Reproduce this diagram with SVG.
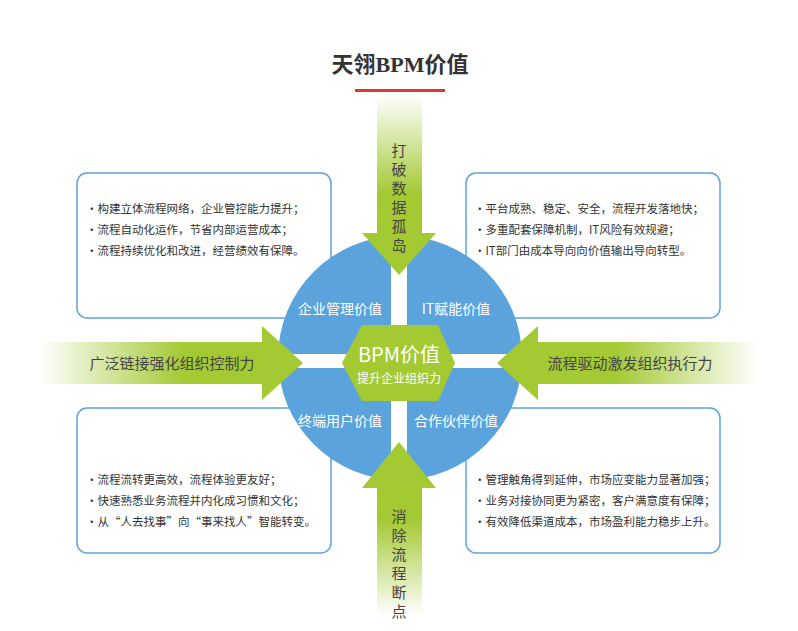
<svg xmlns="http://www.w3.org/2000/svg" width="798" height="631" viewBox="0 0 798 631">
<defs>
<linearGradient id="gd" x1="0" y1="0" x2="0" y2="1"><stop offset="0" stop-color="#fff"/><stop offset="0.55" stop-color="#a3c933"/></linearGradient>
<linearGradient id="gu" x1="0" y1="1" x2="0" y2="0"><stop offset="0" stop-color="#fff"/><stop offset="0.55" stop-color="#a3c933"/></linearGradient>
<linearGradient id="gr" x1="0" y1="0" x2="1" y2="0"><stop offset="0" stop-color="#fff"/><stop offset="0.55" stop-color="#a3c933"/></linearGradient>
<linearGradient id="gl" x1="1" y1="0" x2="0" y2="0"><stop offset="0" stop-color="#fff"/><stop offset="0.55" stop-color="#a3c933"/></linearGradient>
</defs>
<style>
.box{fill:#fff;stroke:#5fa3dc;stroke-width:1.5}
.t{font-family:"Noto Sans CJK SC",sans-serif;font-size:11.5px;fill:#333}
.q{font-family:"Noto Sans CJK SC",sans-serif;font-size:14px;fill:#fff;text-anchor:middle}
.a{font-family:"Noto Sans CJK SC",sans-serif;font-size:15px;fill:#444;text-anchor:middle}
</style>
<rect width="798" height="631" fill="#fff"/>
<text x="400" y="72" text-anchor="middle" font-family="Liberation Serif,'Noto Sans CJK SC',serif" font-weight="bold" font-size="22" fill="#333">天翎BPM价值</text>
<rect x="355" y="89" width="90" height="3" fill="#e03a2f"/>
<g id="box-tl"><rect class="box" x="77" y="173" width="254" height="145" rx="10"/>
<text class="t" x="86" y="213">·构建立体流程网络，企业管控能力提升；</text>
<text class="t" x="86" y="234">·流程自动化运作，节省内部运营成本；</text>
<text class="t" x="86" y="255">·流程持续优化和改进，经营绩效有保障。</text></g>
<g id="box-tr"><rect class="box" x="466" y="173" width="254" height="145" rx="10"/>
<text class="t" x="474" y="213">·平台成熟、稳定、安全，流程开发落地快；</text>
<text class="t" x="474" y="234">·多重配套保障机制，IT风险有效规避；</text>
<text class="t" x="474" y="255">·IT部门由成本导向向价值输出导向转型。</text></g>
<g id="box-bl"><rect class="box" x="77" y="408" width="254" height="145" rx="10"/>
<text class="t" x="86" y="484">·流程流转更高效，流程体验更友好；</text>
<text class="t" x="86" y="505">·快速熟悉业务流程并内化成习惯和文化；</text>
<text class="t" x="86" y="526">·从“人去找事”向“事来找人”智能转变。</text></g>
<g id="box-br"><rect class="box" x="466" y="408" width="254" height="145" rx="10"/>
<text class="t" x="474" y="484">·管理触角得到延伸，市场应变能力显著加强；</text>
<text class="t" x="474" y="505">·业务对接协同更为紧密，客户满意度有保障；</text>
<text class="t" x="474" y="526">·有效降低渠道成本，市场盈利能力稳步上升。</text></g>
<g id="circle">
<circle cx="400" cy="358" r="122" fill="#5ba3dc"/>
<rect x="391" y="234" width="16" height="248" fill="#fff"/>
<rect x="276" y="354" width="248" height="14" fill="#fff"/>
<text class="q" x="340" y="314">企业管理价值</text>
<text class="q" x="456" y="314">IT赋能价值</text>
<text class="q" x="340" y="426">终端用户价值</text>
<text class="q" x="456" y="426">合作伙伴价值</text>
</g>
<g id="connectors">
<path d="M377,95 H422 V233 H436 L399,275 L362,233 H377 Z" fill="url(#gd)"/>
<path d="M377,615 H422 V488 H436 L399,442 L362,488 H377 Z" fill="url(#gu)"/>
<path d="M40,342 H262 V326 L303,363 L262,400 V384 H40 Z" fill="url(#gr)"/>
<path d="M758,342 H538 V326 L497,363 L538,400 V384 H758 Z" fill="url(#gl)"/>
</g>
<g id="arrow-labels">
<text class="a" x="399" y="156">打</text><text class="a" x="399" y="175">破</text><text class="a" x="399" y="194">数</text><text class="a" x="399" y="213">据</text><text class="a" x="399" y="232">孤</text><text class="a" x="399" y="251">岛</text>
<text class="a" x="399" y="522">消</text><text class="a" x="399" y="541">除</text><text class="a" x="399" y="560">流</text><text class="a" x="399" y="579">程</text><text class="a" x="399" y="598">断</text><text class="a" x="399" y="617">点</text>
<text class="a" x="172" y="369">广泛链接强化组织控制力</text>
<text class="a" x="630" y="369">流程驱动激发组织执行力</text>
</g>
<g id="center">
<polygon points="342,363 362,325 438,325 455,363 438,401 362,401" fill="#a3c933"/>
<text x="399" y="362" text-anchor="middle" font-family="'Noto Sans CJK SC',sans-serif" font-size="20" fill="#fff">BPM价值</text>
<text x="399" y="383" text-anchor="middle" font-family="'Noto Sans CJK SC',sans-serif" font-size="12" fill="#fff">提升企业组织力</text>
</g>
</svg>
